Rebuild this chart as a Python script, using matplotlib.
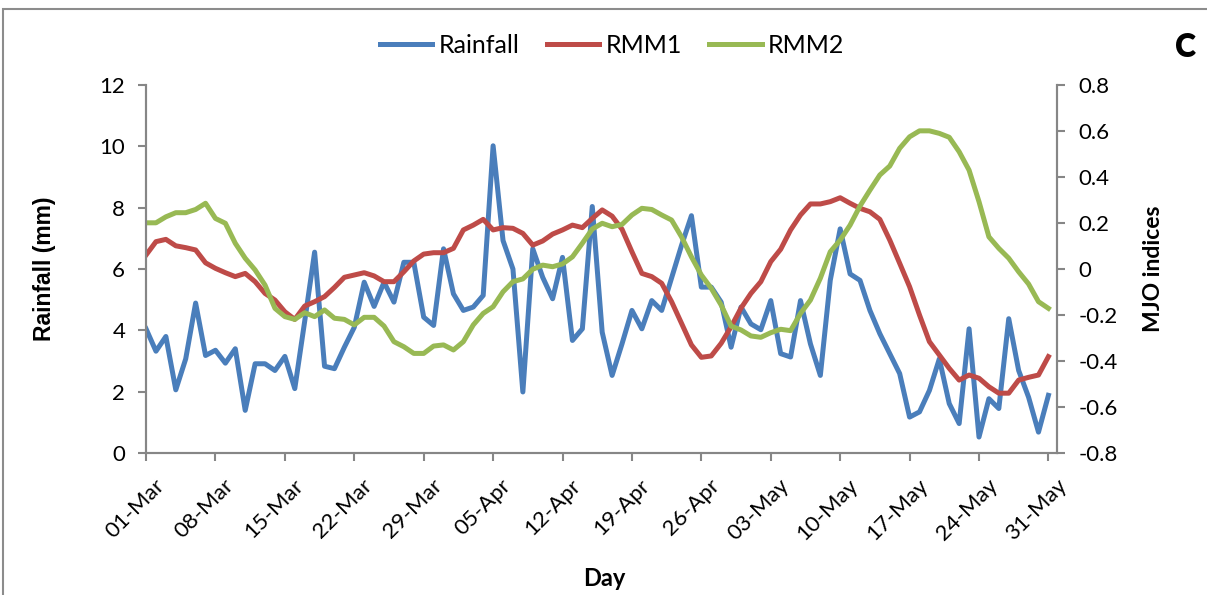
import numpy as np
import matplotlib
matplotlib.use('Agg')
import matplotlib.pyplot as plt
from matplotlib.patches import Rectangle
from matplotlib.transforms import ScaledTranslation

plt.rcParams['font.family'] = ['Lato', 'DejaVu Sans']

# daily values 01-Mar .. 31-May
rainfall = [4.05, 3.32, 3.80, 2.06, 3.07, 4.89, 3.18, 3.35, 2.93, 3.40,
            1.39, 2.91, 2.91, 2.69, 3.15, 2.10, 4.30, 6.55, 2.83, 2.75,
            3.45, 4.10, 5.57, 4.78, 5.57, 4.92, 6.22, 6.22, 4.43, 4.16,
            6.66, 5.19, 4.65, 4.76, 5.14, 10.02, 6.93, 6.00, 1.99, 6.66,
            5.73, 5.03, 6.38, 3.67, 4.05, 8.04, 3.94, 2.53, 3.56, 4.65,
            4.05, 4.97, 4.65, 5.71, 6.77, 7.74, 5.41, 5.41, 4.92, 3.45,
            4.76, 4.21, 4.02, 4.97, 3.24, 3.13, 4.97, 3.56, 2.53, 5.63,
            7.31, 5.84, 5.63, 4.65, 3.89, 3.24, 2.59, 1.17, 1.34, 2.04,
            3.07, 1.61, 0.96, 4.05, 0.52, 1.77, 1.45, 4.38, 2.69, 1.82,
            0.68, 1.88]
rmm1 = [0.061, 0.119, 0.129, 0.101, 0.093, 0.083, 0.027, 0.003, -0.016, -0.033,
        -0.019, -0.055, -0.106, -0.135, -0.186, -0.219, -0.161, -0.142, -0.120, -0.080,
        -0.036, -0.026, -0.016, -0.030, -0.055, -0.055, -0.012, 0.035, 0.065, 0.071,
        0.071, 0.090, 0.170, 0.191, 0.216, 0.170, 0.180, 0.177, 0.155, 0.104,
        0.122, 0.152, 0.170, 0.191, 0.180, 0.220, 0.257, 0.230, 0.173, 0.075,
        -0.019, -0.033, -0.062, -0.142, -0.236, -0.330, -0.384, -0.378, -0.323, -0.251,
        -0.170, -0.106, -0.055, 0.032, 0.086, 0.170, 0.235, 0.283, 0.283, 0.293,
        0.310, 0.286, 0.264, 0.249, 0.216, 0.126, 0.025, -0.077, -0.200, -0.316,
        -0.374, -0.432, -0.483, -0.461, -0.475, -0.512, -0.540, -0.540, -0.483, -0.471,
        -0.461, -0.381]
rmm2 = [0.201, 0.201, 0.227, 0.245, 0.245, 0.259, 0.286, 0.220, 0.199, 0.112,
        0.047, -0.004, -0.070, -0.171, -0.207, -0.219, -0.190, -0.207, -0.178, -0.214,
        -0.219, -0.243, -0.210, -0.210, -0.248, -0.316, -0.338, -0.367, -0.367, -0.335,
        -0.330, -0.352, -0.316, -0.243, -0.193, -0.164, -0.099, -0.055, -0.043, -0.001,
        0.017, 0.010, 0.022, 0.053, 0.112, 0.174, 0.199, 0.184, 0.194, 0.235,
        0.264, 0.259, 0.235, 0.213, 0.140, 0.053, -0.026, -0.084, -0.157, -0.248,
        -0.265, -0.291, -0.297, -0.277, -0.262, -0.268, -0.193, -0.135, -0.040, 0.075,
        0.126, 0.191, 0.274, 0.343, 0.409, 0.448, 0.525, 0.575, 0.601, 0.601,
        0.590, 0.573, 0.510, 0.430, 0.293, 0.140, 0.090, 0.047, -0.012, -0.065,
        -0.142, -0.171]
tick_labels = ['01-Mar', '08-Mar', '15-Mar', '22-Mar', '29-Mar', '05-Apr', '12-Apr',
               '19-Apr', '26-Apr', '03-May', '10-May', '17-May', '24-May', '31-May']
mjo_ticks = [-0.8, -0.6, -0.4, -0.2, 0, 0.2, 0.4, 0.6, 0.8]

days = np.arange(len(rainfall))
gray = '#868686'

fig = plt.figure(figsize=(12.07, 5.95), dpi=100)
ax = fig.add_axes([0.121, 0.2387, 0.755, 0.6183])
ax2 = ax.twinx()

l1, = ax.plot(days, rainfall, color='#4A7EBB', lw=3.6, solid_joinstyle='round')
l2, = ax2.plot(days, rmm1, color='#BE4B48', lw=3.6, solid_joinstyle='round')
l3, = ax2.plot(days, rmm2, color='#98B954', lw=3.6, solid_joinstyle='round')

ax.set_xlim(0, 91.9)
ax.set_ylim(0, 12)
ax2.set_ylim(-0.8, 0.8)
ax.set_yticks(np.arange(0, 13, 2))
ax2.set_yticks(mjo_ticks)
ax2.set_yticklabels(['%g' % v for v in mjo_ticks])
ax.set_xticks(np.arange(0, 92, 7))
ax.set_xticklabels(tick_labels, rotation=45, ha='right', rotation_mode='anchor')

for a in (ax, ax2):
    a.spines['top'].set_visible(False)
    for s in ('left', 'right', 'bottom'):
        a.spines[s].set_color(gray)
        a.spines[s].set_linewidth(1.5)
    a.tick_params(colors=gray, labelcolor='black', labelsize=16, length=6, width=1.5, pad=9)
ax.tick_params(axis='x', pad=10)
shift = ScaledTranslation(8 / 100, 0, fig.dpi_scale_trans)
for lab in ax.get_xticklabels():
    lab.set_transform(lab.get_transform() + shift)

ax.set_ylabel('Rainfall (mm)', fontsize=16.5, fontweight='bold', labelpad=31,
              family=['Liberation Sans', 'DejaVu Sans'])
ax2.set_ylabel('MJO indices', fontsize=16.5, fontweight='bold', labelpad=18)
ax.set_xlabel('Day', fontsize=17, fontweight='bold')
ax.xaxis.set_label_coords(0.503, -0.31)

fig.legend([l1, l2, l3], ['Rainfall', 'RMM1', 'RMM2'], loc='center',
           bbox_to_anchor=(0.507, 0.924), ncol=3, frameon=False, fontsize=18,
           handlelength=2.1, handletextpad=0.25, columnspacing=1.1)
fig.text(0.9825, 0.92, 'C', fontsize=23, fontweight='heavy', ha='center', va='center')

fig.add_artist(Rectangle((3 / 1207, -0.1), 1.2, (595 - 9) / 595 + 0.1, transform=fig.transFigure,
                         fill=False, edgecolor='#8c8c8c', lw=1.5))

fig.savefig('out.png', dpi=100)
